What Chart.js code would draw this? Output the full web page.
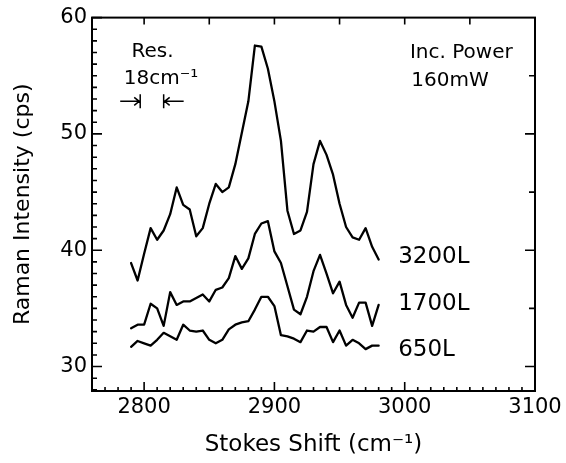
<!DOCTYPE html>
<html><head><meta charset="utf-8">
<script src="https://cdn.jsdelivr.net/npm/chart.js@4"></script>
<style>html,body{margin:0;padding:0;background:#fff;} #wrap{width:566px;height:463px;}</style>
</head><body><div id="wrap"><canvas id="c" width="566" height="463"></canvas></div>
<script>
// ---- data ----
const shift = [2790, 2795, 2800, 2805, 2810, 2815, 2820, 2825, 2830, 2835,
               2840, 2845, 2850, 2855, 2860, 2865, 2870, 2875, 2880, 2885,
               2890, 2895, 2900, 2905, 2910, 2915, 2920, 2925, 2930, 2935,
               2940, 2945, 2950, 2955, 2960, 2965, 2970, 2975, 2980];
const s3200 = [38.9, 37.4, 39.7, 41.9, 40.9, 41.7, 43.1, 45.4, 43.9, 43.5,
               41.2, 41.9, 44.0, 45.7, 45.0, 45.4, 47.4, 50.1, 52.8, 57.6,
               57.5, 55.6, 52.8, 49.4, 43.4, 41.4, 41.7, 43.3, 47.4, 49.4,
               48.2, 46.5, 44.0, 42.0, 41.1, 40.9, 41.9, 40.3, 39.2];
const s1700 = [33.3, 33.6, 33.6, 35.4, 35.0, 33.5, 36.4, 35.3, 35.6, 35.6,
               35.9, 36.2, 35.6, 36.6, 36.8, 37.6, 39.5, 38.4, 39.3, 41.4,
               42.3, 42.5, 39.9, 38.9, 36.9, 34.9, 34.5, 36.0, 38.2, 39.6,
               38.0, 36.3, 37.3, 35.3, 34.2, 35.5, 35.5, 33.5, 35.3];
const s650  = [31.7, 32.2, 32.0, 31.8, 32.3, 32.9, 32.6, 32.3, 33.6, 33.1,
               33.0, 33.1, 32.3, 32.0, 32.3, 33.2, 33.6, 33.8, 33.9, 34.9,
               36.0, 36.0, 35.2, 32.7, 32.6, 32.4, 32.1, 33.1, 33.0, 33.4,
               33.4, 32.1, 33.1, 31.8, 32.3, 32.0, 31.5, 31.8, 31.8];
const seriesNames = ['3200L', '1700L', '650L'];
const xTicks = [2800, 2900, 3000, 3100];
const yTicks = [30, 40, 50, 60];

// ---- annotation placement (data units) ----
const curveLabelAt = [[2995, 39.4], [2995, 35.4], [2995, 31.4]];
const notes = [
  {text: 'Res.', x: 2806.5, y: 57.1, align: 'center'},
  {text: '18cm\u207B\u00B9', x: 2813, y: 54.7, align: 'center'},
  {text: 'Inc. Power', x: 3004, y: 57.0, align: 'left'},
  {text: '160mW', x: 3005, y: 54.6, align: 'left'}
];
const resBars = [2797, 2815];
const resY = 52.8;

const FONT = '"DejaVu Sans", sans-serif';

const decor = {
  id: 'decor',
  afterDatasetsDraw(chart) {
    const {ctx, chartArea: a, scales: {x, y}} = chart;
    ctx.save();
    ctx.strokeStyle = '#000';
    ctx.lineWidth = 2;
    ctx.strokeRect(a.left, a.top, a.right - a.left, a.bottom - a.top);
    ctx.lineWidth = 1.6;
    ctx.beginPath();
    for (let v = Math.ceil(x.min / 10) * 10; v <= x.max; v += 10) {
      const px = x.getPixelForValue(v), L = v % 100 === 0 ? 9 : 4;
      ctx.moveTo(px, a.bottom); ctx.lineTo(px, a.bottom - L);
    }
    for (let v = Math.ceil(x.min / 50) * 50; v < x.max; v += 50) {
      const px = x.getPixelForValue(v);
      ctx.moveTo(px, a.top); ctx.lineTo(px, a.top + 7);
    }
    for (let v = Math.ceil(y.min); v <= y.max; v += 1) {
      const py = y.getPixelForValue(v), L = v % 10 === 0 ? 10 : 5;
      ctx.moveTo(a.left, py); ctx.lineTo(a.left + L, py);
    }
    for (let v = Math.ceil(y.min / 5) * 5; v < y.max; v += 5) {
      const py = y.getPixelForValue(v), L = v % 10 === 0 ? 10 : 6;
      ctx.moveTo(a.right, py); ctx.lineTo(a.right - L, py);
    }
    ctx.stroke();

    // resolution marker
    const b1 = x.getPixelForValue(resBars[0]), b2 = x.getPixelForValue(resBars[1]);
    const ry = y.getPixelForValue(resY);
    const shaft = 20, head = 5;
    ctx.lineWidth = 1.5;
    ctx.beginPath();
    ctx.moveTo(b1, ry - 7); ctx.lineTo(b1, ry + 7);
    ctx.moveTo(b2, ry - 7); ctx.lineTo(b2, ry + 7);
    ctx.moveTo(b1 - shaft, ry); ctx.lineTo(b1 - 1, ry);
    ctx.moveTo(b1 - 1 - head, ry - 4); ctx.lineTo(b1 - 1, ry); ctx.lineTo(b1 - 1 - head, ry + 4);
    ctx.moveTo(b2 + shaft, ry); ctx.lineTo(b2 + 1, ry);
    ctx.moveTo(b2 + 1 + head, ry - 4); ctx.lineTo(b2 + 1, ry); ctx.lineTo(b2 + 1 + head, ry + 4);
    ctx.stroke();

    ctx.fillStyle = '#000';
    ctx.textBaseline = 'middle';
    ctx.font = '20px ' + FONT;
    notes.forEach(n => {
      ctx.textAlign = n.align;
      ctx.fillText(n.text, x.getPixelForValue(n.x), y.getPixelForValue(n.y));
    });
    ctx.font = '23px ' + FONT;
    ctx.textAlign = 'left';
    seriesNames.forEach((s, i) => {
      ctx.fillText(s, x.getPixelForValue(curveLabelAt[i][0]), y.getPixelForValue(curveLabelAt[i][1]));
    });
    ctx.restore();
  }
};

const mk = (vals, name) => ({
  label: name,
  data: shift.map((s, i) => ({x: s, y: vals[i]})),
  borderColor: '#000', borderWidth: 2.3, pointRadius: 0, tension: 0, fill: false,
  borderJoinStyle: 'round', borderCapStyle: 'round'
});

new Chart(document.getElementById('c'), {
  type: 'line',
  data: {datasets: [mk(s3200, seriesNames[0]), mk(s1700, seriesNames[1]), mk(s650, seriesNames[2])]},
  plugins: [decor],
  options: {
    responsive: false, devicePixelRatio: 1, animation: false,
    layout: {autoPadding: false, padding: {top: 15, right: 31, left: 0, bottom: 0}},
    plugins: {legend: {display: false}, tooltip: {enabled: false}},
    scales: {
      x: {
        type: 'linear', position: 'bottom', min: 2760, max: 3100,
        grid: {display: false, drawTicks: false},
        border: {display: false},
        afterBuildTicks: ax => { ax.ticks = xTicks.map(v => ({value: v})); },
        afterFit: ax => { ax.height = 72; },
        ticks: {color: '#000', font: {family: FONT, size: 21}, padding: 4, maxRotation: 0, autoSkip: false,
                callback: v => String(v)},
        title: {display: true, text: 'Stokes Shift (cm\u207B\u00B9)', color: '#000', font: {family: FONT, size: 23}, padding: 4}
      },
      y: {
        type: 'linear', position: 'left', min: 27.9, max: 60,
        grid: {display: false, drawTicks: false},
        border: {display: false},
        afterBuildTicks: ax => { ax.ticks = yTicks.map(v => ({value: v})); },
        afterFit: ax => { ax.width = 92; },
        ticks: {color: '#000', font: {family: FONT, size: 21}, padding: 5, autoSkip: false,
                callback: v => String(v)},
        title: {display: true, text: 'Raman Intensity (cps)', color: '#000', font: {family: FONT, size: 22}, padding: 10}
      }
    }
  }
});
</script>
</body></html>
